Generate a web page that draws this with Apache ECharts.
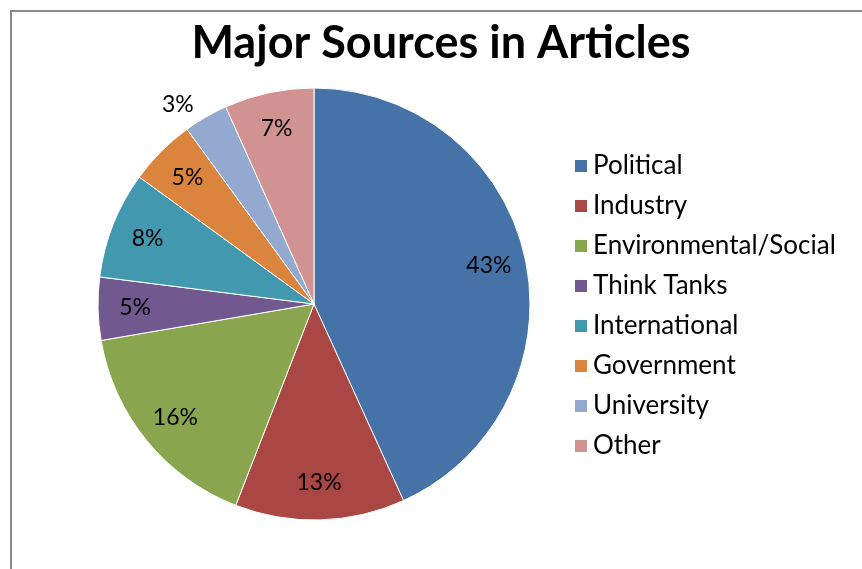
<!DOCTYPE html>
<html><head><meta charset="utf-8">
<script src="https://cdn.jsdelivr.net/npm/echarts@6/dist/echarts.min.js"></script>
<style>html,body{margin:0;padding:0;background:#fff}#c{width:862px;height:569px}</style>
</head><body><div id="c"></div>
<script>
const categories = ['Political','Industry','Environmental/Social','Think Tanks','International','Government','University','Other'];
const values = [43.2, 12.7, 16.4, 4.7, 8.0, 5.0, 3.3, 6.7];
const colors = ['#4572A7','#AA4643','#89A54E','#71588F','#4198AF','#DB843D','#93A9CF','#D19392'];
const outsideLabel = ['University'];
const titleText = 'Major Sources in Articles';

const FONT = 'Lato';
const chart = echarts.init(document.getElementById('c'), null, {renderer:'canvas'});
const fmt = p => Math.round(p.percent) + '%';
chart.setOption({
  animation: false,
  color: colors,
  title: {text: titleText, left: 436, textAlign: 'center', top: 16,
    textStyle: {fontFamily: FONT, fontWeight: 'bold', fontSize: 45, color: '#000'}},
  legend: {
    orient: 'vertical', left: 568, top: 148, itemWidth: 14, itemHeight: 14, itemGap: 14,
    icon: 'rect',
    textStyle: {fontFamily: FONT, fontSize: 26, lineHeight: 26, color: '#000', padding: [0,0,0,0]},
    data: categories.map((n,i)=>({name:n, itemStyle:{color:colors[i]}}))
  },
  graphic: [{type:'polyline', shape:{points:[[11,569],[11,11],[862,11]]}, style:{stroke:'#8a8a8a', lineWidth:2, fill:null}, silent:true}],
  series: [
    {type:'pie', center:[314,304], radius:[0,216], startAngle:90, clockwise:true, silent:true,
     itemStyle:{borderColor:'#fff', borderWidth:1},
     label:{show:false}, labelLine:{show:false},
     data: categories.map((n,i)=>({name:n, value:values[i]}))},
    {type:'pie', center:[314,304], radius:[136,216], startAngle:90, clockwise:true, silent:true,
     itemStyle:{color:'transparent', borderWidth:0},
     label:{show:true, position:'inside', rotate:0, formatter: fmt, fontFamily: FONT, fontSize: 23, color:'#000'},
     labelLine:{show:false},
     data: categories.map((n,i)=>({name:n, value:values[i],
       label: outsideLabel.includes(n) ? {position:'outside'} : undefined,
       labelLine: outsideLabel.includes(n) ? {show:false, length:14, length2:0} : undefined}))}
  ]
});
</script></body></html>
